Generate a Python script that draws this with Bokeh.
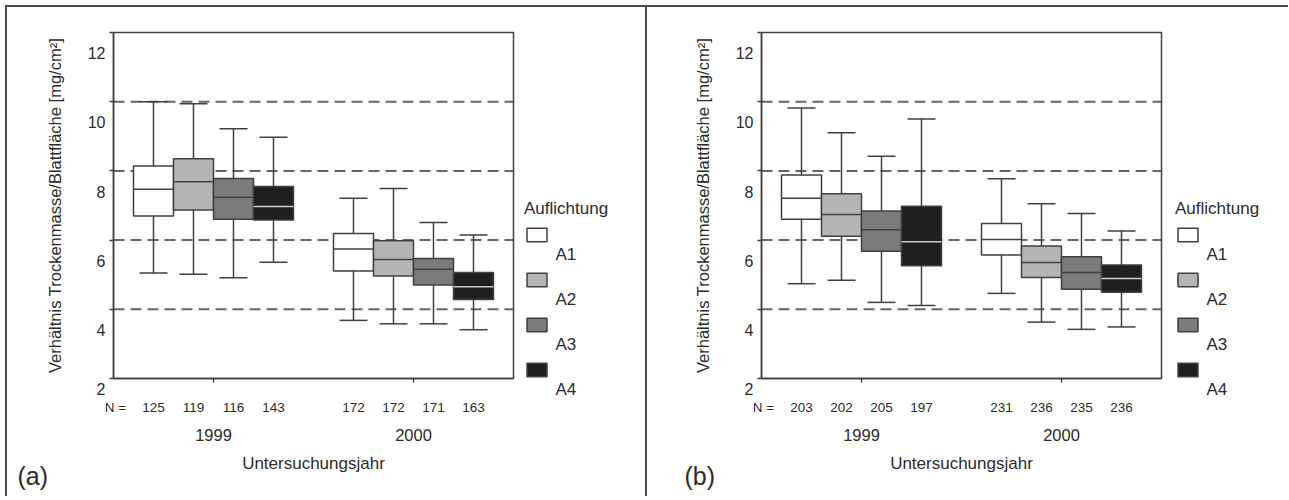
from bokeh.plotting import figure
from bokeh.models import (ColumnDataSource, FixedTicker, LinearAxis, Range1d,
                          Legend, LegendItem, Label, BoxAnnotation)
from bokeh.layouts import row
from bokeh.embed import file_html
from bokeh.resources import INLINE

# ---------------- data ----------------
groups = ["A1", "A2", "A3", "A4"]
years = ["1999", "2000"]
y_ticks = [2, 4, 6, 8, 10, 12]
ref_lines = [4, 6, 8, 10]
x_title = "Untersuchungsjahr"
y_title = "Verhältnis Trockenmasse/Blattfläche [mg/cm²]"
legend_title = "Auflichtung"
n_prefix = "N ="

# panel (a): one row per year, one column per group A1..A4
a_max = [[10.00, 9.94, 9.22, 8.97], [7.21, 7.49, 6.51, 6.15]]
a_q3 = [[8.14, 8.35, 7.78, 7.55], [6.19, 5.98, 5.47, 5.06]]
a_med = [[7.47, 7.69, 7.24, 6.97], [5.74, 5.44, 5.16, 4.65]]
a_q1 = [[6.70, 6.87, 6.60, 6.58], [5.11, 4.96, 4.70, 4.28]]
a_min = [[5.05, 5.01, 4.91, 5.36], [3.68, 3.58, 3.58, 3.41]]
a_n = [[125, 119, 116, 143], [172, 172, 171, 163]]

# panel (b)
b_max = [[9.82, 9.10, 8.42, 9.50], [7.77, 7.05, 6.77, 6.26]]
b_q3 = [[7.88, 7.34, 6.84, 6.98], [6.48, 5.83, 5.52, 5.28]]
b_med = [[7.21, 6.74, 6.30, 5.95], [6.02, 5.35, 5.06, 4.89]]
b_q1 = [[6.60, 6.11, 5.68, 5.26], [5.57, 4.92, 4.58, 4.49]]
b_min = [[4.74, 4.84, 4.20, 4.11], [4.46, 3.63, 3.42, 3.49]]
b_n = [[203, 202, 205, 197], [231, 236, 235, 236]]

# ---------------- style / layout ----------------
FONT = "Liberation Sans"
TXT = "#2b2b2b"
LINE = "#404040"
fills = ["#ffffff", "#b5b5b5", "#7b7b7b", "#1f1f1f"]
med_colors = [LINE, LINE, LINE, "#c9c9c9"]
BOX_W = 0.4
CAP_HW = 0.14
X_LO, X_HI = 0, 4          # extent of the box area (data units)
Y_LO, Y_HI = 2, 12
AREA_W, AREA_H = 400, 346  # pixel size of the box area
PX_X = AREA_W / (X_HI - X_LO)
PX_Y = AREA_H / (Y_HI - Y_LO)
FIG_H = 496
TOP = 32                   # pixels above the box area
BOTTOM = FIG_H - TOP - AREA_H
year_pos = [1.0 + 2.0 * j for j in range(len(years))]
offsets = [(i - 1.5) * BOX_W for i in range(len(groups))]

SW_W, SW_H, SW_GAP = 25, 17, 28      # legend swatch size and gap


def make_panel(tag, mx, q3, md, q1, mn, ns, fig_w, left, leg_dx, tag_x, shadow):
    p = figure(frame_width=fig_w, frame_height=FIG_H, width=fig_w, height=FIG_H,
               x_range=Range1d(X_LO - left / PX_X, X_LO + (fig_w - left) / PX_X),
               y_range=Range1d(Y_LO - BOTTOM / PX_Y, Y_HI + TOP / PX_Y),
               x_axis_location=None, y_axis_location=None,
               output_backend="svg", toolbar_location=None,
               min_border=0, min_border_left=0, min_border_right=0,
               min_border_top=0, min_border_bottom=0)
    p.outline_line_color = None
    p.background_fill_color = None
    p.border_fill_color = None
    p.styles = {"box-shadow": shadow}
    p.xgrid.visible = False
    p.ygrid.visible = False

    # dashed reference lines across the box area
    p.segment(x0=[X_LO] * len(ref_lines), x1=[X_HI] * len(ref_lines),
              y0=ref_lines, y1=ref_lines, line_color="#666666", line_width=2,
              line_dash="11 6")

    # y axis
    ya = LinearAxis(fixed_location=X_LO, bounds=(Y_LO, Y_HI),
                    ticker=FixedTicker(ticks=y_ticks))
    ya.major_label_overrides = {t: ("\n" if t == y_ticks[0] else "\n\n") + str(t) for t in y_ticks}
    ya.major_label_text_font = FONT
    ya.major_label_text_font_size = "16px"
    ya.major_label_text_color = TXT
    ya.major_label_text_line_height = 1.25
    ya.major_label_standoff = 4
    ya.major_tick_out = 4
    ya.major_tick_in = 0
    ya.minor_tick_out = 0
    ya.minor_tick_in = 0
    ya.axis_line_color = LINE
    ya.axis_line_width = 1.5
    ya.major_tick_line_color = LINE
    ya.major_tick_line_width = 1.5
    ya.axis_label = y_title
    ya.axis_label_text_font = FONT
    ya.axis_label_text_font_size = "16.5px"
    ya.axis_label_text_font_style = "normal"
    ya.axis_label_text_color = TXT
    ya.axis_label_standoff = 21
    p.add_layout(ya, "left")

    # axis line + year tick marks
    ax_t = LinearAxis(fixed_location=Y_LO, bounds=(X_LO, X_HI),
                      ticker=FixedTicker(ticks=year_pos),
                      major_label_overrides={y: "" for y in year_pos},
                      major_label_text_font_size="0px", major_label_standoff=0,
                      major_tick_out=4, major_tick_in=0, minor_tick_out=0, minor_tick_in=0,
                      axis_line_color=LINE, axis_line_width=1.5,
                      major_tick_line_color=LINE, major_tick_line_width=1.5)
    p.add_layout(ax_t, "below")

    # N row
    centers = []
    n_labels = {0.02: n_prefix}
    for j, yp in enumerate(year_pos):
        for i, off in enumerate(offsets):
            c = round(yp + off, 3)
            centers.append(c)
            n_labels[c] = str(ns[j][i])
    ax_n = LinearAxis(fixed_location=Y_LO, bounds=(X_LO, X_HI),
                      ticker=FixedTicker(ticks=[0.02] + centers),
                      major_label_overrides=n_labels,
                      major_label_text_font=FONT, major_label_text_font_size="13.5px",
                      major_label_text_color=TXT, major_label_standoff=21,
                      major_tick_out=0, major_tick_in=0, minor_tick_out=0, minor_tick_in=0,
                      axis_line_color=None, major_tick_line_color=None, minor_tick_line_color=None)
    p.add_layout(ax_n, "below")

    ax_y = LinearAxis(fixed_location=Y_LO, bounds=(X_LO, X_HI),
                      ticker=FixedTicker(ticks=year_pos),
                      major_label_overrides={yp: years[j] for j, yp in enumerate(year_pos)},
                      major_label_text_font=FONT, major_label_text_font_size="16.5px",
                      major_label_text_color=TXT, major_label_standoff=50,
                      major_tick_out=0, major_tick_in=0, minor_tick_out=0, minor_tick_in=0,
                      axis_line_color=None, major_tick_line_color=None, minor_tick_line_color=None,
                      axis_label=x_title, axis_label_text_font=FONT,
                      axis_label_text_font_size="17px", axis_label_text_font_style="normal",
                      axis_label_text_color=TXT, axis_label_standoff=10)
    p.add_layout(ax_y, "below")

    box_renderers = []
    for i, g in enumerate(groups):
        xs = [year_pos[j] + offsets[i] for j in range(len(years))]
        src = ColumnDataSource(dict(
            x=xs,
            xl=[x - CAP_HW for x in xs], xr=[x + CAP_HW for x in xs],
            ml=[x - BOX_W / 2 for x in xs], mr=[x + BOX_W / 2 for x in xs],
            mx=[mx[j][i] for j in range(len(years))],
            q3=[q3[j][i] for j in range(len(years))],
            md=[md[j][i] for j in range(len(years))],
            q1=[q1[j][i] for j in range(len(years))],
            mn=[mn[j][i] for j in range(len(years))],
        ))
        p.segment(x0="x", x1="x", y0="q3", y1="mx", source=src, line_color=LINE, line_width=1.5)
        p.segment(x0="x", x1="x", y0="q1", y1="mn", source=src, line_color=LINE, line_width=1.5)
        p.segment(x0="xl", x1="xr", y0="mx", y1="mx", source=src, line_color=LINE, line_width=1.5)
        p.segment(x0="xl", x1="xr", y0="mn", y1="mn", source=src, line_color=LINE, line_width=1.5)
        r = p.vbar(x="x", width=BOX_W, top="q3", bottom="q1", source=src,
                   fill_color=fills[i], line_color=LINE, line_width=1.5)
        p.segment(x0="ml", x1="mr", y0="md", y1="md", source=src,
                  line_color=med_colors[i], line_width=1.5)
        box_renderers.append(r)

    # frame around the box area
    p.add_layout(BoxAnnotation(left=X_LO, right=X_HI, bottom=Y_LO, top=Y_HI,
                               fill_color=None, fill_alpha=0,
                               line_color=LINE, line_alpha=1.0, line_width=1.5))

    # legend: title + swatches
    leg_x = left + AREA_W + leg_dx
    sw_items = [LegendItem(label="", renderers=[box_renderers[i]]) for i in range(len(groups))]
    leg = Legend(items=sw_items, location=(leg_x, BOTTOM), title=legend_title,
                 title_text_font=FONT, title_text_font_size="17px",
                 title_text_font_style="normal", title_text_color=TXT, title_standoff=7,
                 label_text_font_size="1px", label_height=SW_H, label_standoff=0,
                 glyph_width=SW_W, glyph_height=SW_H, spacing=SW_GAP,
                 padding=0, margin=0, border_line_color=None, background_fill_alpha=0)
    p.add_layout(leg)

    # group names, set below-right of each swatch
    pitch = SW_H + SW_GAP
    n_g = len(groups)
    for k, g in enumerate(groups):
        sw_center = BOTTOM + SW_H / 2 + (n_g - 1 - k) * pitch
        p.add_layout(Label(x=leg_x + SW_W + 6, y=sw_center - 19.7,
                           x_units="screen", y_units="screen", text=g,
                           text_font=FONT, text_font_size="17px", text_color=TXT,
                           text_baseline="middle", text_align="left"))

    # panel tag
    p.add_layout(Label(x=tag_x, y=21, x_units="screen", y_units="screen", text=f"({tag})",
                       text_font=FONT, text_font_size="25px", text_color=TXT,
                       text_baseline="middle", text_align="left"))
    return p


pa = make_panel("a", a_max, a_q3, a_med, a_q1, a_min, a_n, 645, 113, 11, 17,
                "inset 5px 5px 0 0 #ffffff, inset 7px 7px 0 0 #4a4a4a")
pb = make_panel("b", b_max, b_q3, b_med, b_q1, b_min, b_n, 643, 116, 14, 39,
                "inset 0 5px 0 0 #ffffff, inset 2px 7px 0 0 #4a4a4a")

layout = row(pa, pb)
open("out.html", "w").write(file_html(layout, INLINE))
